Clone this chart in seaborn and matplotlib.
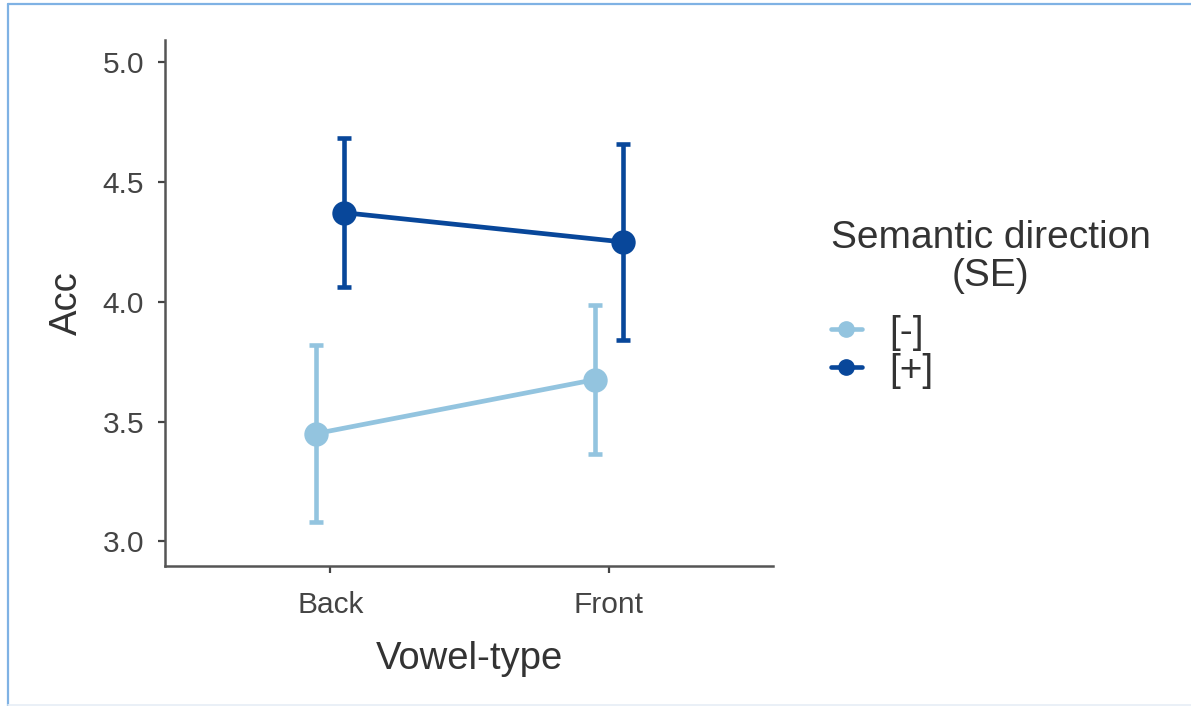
import numpy as np
import pandas as pd
import matplotlib
matplotlib.use("Agg")
import matplotlib.pyplot as plt
from matplotlib.lines import Line2D
import seaborn as sns

# Cell means and standard errors of accuracy by vowel type and semantic direction
vowel_types = ["Back", "Front"]
directions = ["[-]", "[+]"]
acc_minus = [3.45, 3.675]
acc_plus = [4.372, 4.25]
se_minus = [0.37, 0.31]
se_plus = [0.31, 0.41]

palette = {"[-]": "#93c4df", "[+]": "#08479a"}

df = pd.DataFrame({
    "Vowel-type": vowel_types * 2,
    "SE": [directions[0]] * 2 + [directions[1]] * 2,
    "Acc": acc_minus + acc_plus,
    "err": se_minus + se_plus,
})

sns.set_theme(style="ticks")
plt.rcParams["font.family"] = ["Liberation Sans", "DejaVu Sans"]

fig = plt.figure(figsize=(11.91, 7.06), dpi=100)
ax = fig.add_axes([0.1385, 0.198, 0.5105, 0.745])

sns.pointplot(
    data=df, x="Vowel-type", y="Acc", hue="SE",
    order=vowel_types, hue_order=directions, palette=palette,
    dodge=0.1, errorbar=None, markers="o", markersize=15,
    linewidth=3.4, ax=ax,
)

# Standard-error bars at the dodged positions seaborn used for each series
for line, level in zip(ax.lines[:len(directions)], directions):
    xs = np.asarray(line.get_xdata(), dtype=float)
    sub = df[df["SE"] == level].set_index("Vowel-type").loc[vowel_types]
    ax.errorbar(xs, sub["Acc"].values, yerr=sub["err"].values, fmt="none",
                ecolor=palette[level], elinewidth=3.3, capsize=5,
                capthick=3.3, zorder=line.get_zorder() - 0.1)

ax.set_xlim(-0.594, 1.59)
ax.set_ylim(2.896, 5.092)
ax.set_yticks([3.0, 3.5, 4.0, 4.5, 5.0])
ax.set_yticklabels(["3.0", "3.5", "4.0", "4.5", "5.0"])
ax.set_xlabel("Vowel-type", fontsize=27.5, color="#333333", labelpad=16)
ax.set_ylabel("Acc", fontsize=27.5, color="#333333", labelpad=13)
ax.tick_params(axis="both", labelsize=21.5, labelcolor="#444444",
               color="#444444", length=5, width=1.6)
ax.tick_params(axis="x", pad=13)
ax.tick_params(axis="y", pad=10)
for side in ("left", "bottom"):
    ax.spines[side].set_color("#555555")
    ax.spines[side].set_linewidth(1.8)
sns.despine(ax=ax)

handles = [Line2D([0], [0], color=palette[d], marker="o", markersize=11,
                  linewidth=3.3) for d in directions]
leg = ax.legend(handles, directions, title="Semantic direction\n(SE)",
                loc="upper left", bbox_to_anchor=(0.668, 0.738),
                bbox_transform=fig.transFigure, frameon=False,
                fontsize=28, title_fontsize=28, handlelength=0.8,
                handletextpad=0.7, labelspacing=0.05, alignment="left")
leg.get_title().set_multialignment("center")
leg.get_title().set_linespacing(1.08)
leg.get_title().set_color("#333333")
leg._legend_box.sep = 15
for t in leg.get_texts():
    t.set_color("#333333")

# Thin blue frame along the top and left edges of the figure
frame = "#7fb2e4"
fig.add_artist(Line2D([0.0068, 0.0068], [0.0, 0.995], transform=fig.transFigure,
                      color=frame, linewidth=1.6))
fig.add_artist(Line2D([0.0068, 1.0], [0.995, 0.995], transform=fig.transFigure,
                      color=frame, linewidth=1.6))
fig.add_artist(Line2D([0.0068, 1.0], [0.001, 0.001], transform=fig.transFigure,
                      color="#e6eef6", linewidth=1.2))

fig.savefig("out.png", dpi=100)
